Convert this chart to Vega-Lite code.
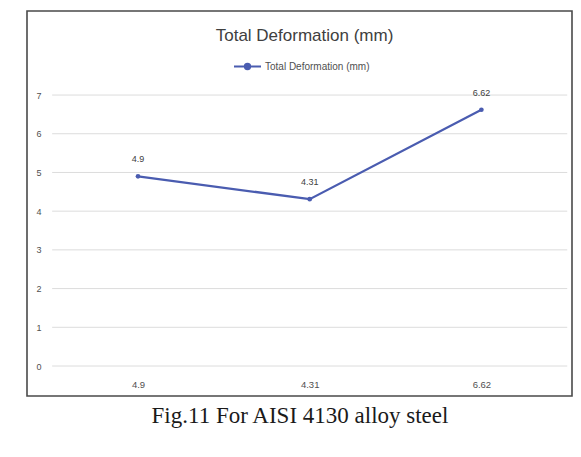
{
  "$schema": "https://vega.github.io/schema/vega-lite/v6.json",
  "width": 545,
  "height": 385,
  "autosize": {"type": "none"},
  "padding": {"left": 27, "top": 11, "right": 9, "bottom": 61},
  "background": "white",
  "config": {
    "view": {"stroke": "#4a4a4a", "strokeWidth": 1.6},
    "font": "Liberation Sans"
  },
  "title": {
    "text": "Total Deformation (mm)",
    "anchor": "middle",
    "frame": "group",
    "baseline": "alphabetic",
    "offset": -47,
    "dx": 5,
    "fontSize": 17,
    "font": "Liberation Sans",
    "fontWeight": "normal",
    "color": "#404040"
  },
  "datasets": {
    "deform": [
      {"case": "4.9", "idx": 0, "deformation": 4.9},
      {"case": "4.31", "idx": 1, "deformation": 4.31},
      {"case": "6.62", "idx": 2, "deformation": 6.62}
    ],
    "grid": [
      {"tick": 0}, {"tick": 1}, {"tick": 2}, {"tick": 3},
      {"tick": 4}, {"tick": 5}, {"tick": 6}, {"tick": 7}
    ]
  },
  "layer": [
    {
      "data": {"name": "grid"},
      "mark": {"type": "rule", "color": "#dcdcdc", "strokeWidth": 1},
      "encoding": {
        "y": {
          "field": "tick",
          "type": "quantitative",
          "scale": {"domain": [-0.775, 9.171], "nice": false, "zero": false},
          "axis": {
            "values": [0, 1, 2, 3, 4, 5, 6, 7],
            "grid": false,
            "domain": false,
            "ticks": false,
            "tickSize": 0,
            "labelPadding": -14,
            "labelFontSize": 9,
            "labelColor": "#505050",
            "title": null
          }
        },
        "x": {
          "datum": -0.5,
          "type": "quantitative",
          "scale": {"domain": [-0.6465, 2.5277], "nice": false, "zero": false}
        },
        "x2": {"datum": 2.5}
      }
    },
    {
      "data": {"name": "deform"},
      "mark": {"type": "line", "strokeWidth": 2.25, "point": {"filled": true, "size": 22}},
      "encoding": {
        "x": {
          "field": "idx",
          "type": "quantitative",
          "scale": {"domain": [-0.6465, 2.5277], "nice": false, "zero": false},
          "axis": {
            "values": [0, 1, 2],
            "labelExpr": "['4.9','4.31','6.62'][datum.value]",
            "grid": false,
            "domain": false,
            "ticks": false,
            "tickSize": 0,
            "labelPadding": -17,
            "labelFontSize": 9.5,
            "labelColor": "#505050",
            "title": "Fig.11 For AISI 4130 alloy steel",
            "titleFont": "Liberation Serif",
            "titleFontSize": 23,
            "titleFontWeight": "normal",
            "titleColor": "#1a1a1a",
            "titlePadding": 8
          }
        },
        "y": {
          "field": "deformation",
          "type": "quantitative",
          "scale": {"domain": [-0.775, 9.171], "nice": false, "zero": false},
          "axis": {"title": null}
        },
        "color": {
          "datum": "Total Deformation (mm)",
          "type": "nominal",
          "scale": {"range": ["#4a5cb0"]},
          "legend": {
            "orient": "none",
            "legendX": 206,
            "legendY": 41,
            "title": null,
            "padding": 0,
            "symbolType": "M-1,0L1,0M-0.2,0A0.2,0.2,0,1,0,0.2,0A0.2,0.2,0,1,0,-0.2,0Z",
            "symbolSize": 729,
            "symbolStrokeWidth": 2,
            "symbolFillColor": "#4a5cb0",
            "symbolStrokeColor": "#4a5cb0",
            "labelFontSize": 10,
            "labelColor": "#505050",
            "labelOffset": 3
          }
        }
      }
    },
    {
      "data": {"name": "deform"},
      "mark": {"type": "text", "dy": -17, "fontSize": 9, "color": "#404040"},
      "encoding": {
        "x": {"field": "idx", "type": "quantitative"},
        "y": {"field": "deformation", "type": "quantitative"},
        "text": {"field": "deformation", "type": "quantitative", "format": "~g"}
      }
    }
  ]
}
